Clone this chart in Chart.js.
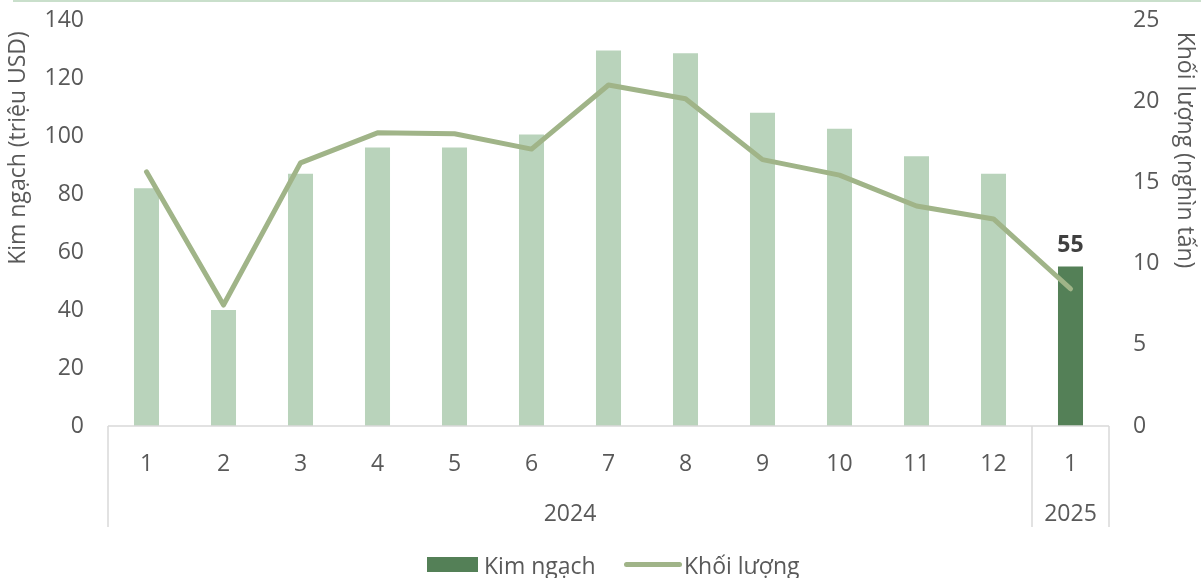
<!DOCTYPE html>
<html>
<head>
<meta charset="utf-8">
<script src="https://cdn.jsdelivr.net/npm/chart.js@4.4.1/dist/chart.umd.min.js"></script>
<style>
  html, body { margin: 0; padding: 0; background: #fff; }
  #wrap { position: relative; width: 1201px; height: 578px; overflow: hidden; }
  #topline { position: absolute; left: 13px; right: 0; top: 0; height: 2px; background: #c9dfcb; }
  #legend { position: absolute; left: 0; width: 1201px; top: 551px; height: 28px;
    font-family: "Open Sans", sans-serif; font-size: 23px; color: #595959; }
  .item { position: absolute; top: 0; line-height: 28px; white-space: nowrap; }
  .sw { position: absolute; }
</style>
</head>
<body>
<div id="wrap">
  <canvas id="chart" width="1201" height="578"></canvas>
  <div id="topline"></div>
  <div id="legend"></div>
</div>
<script>
document.addEventListener('DOMContentLoaded', () => {
  // data
  const months = ['1', '2', '3', '4', '5', '6', '7', '8', '9', '10', '11', '12', '1'];
  const years = [
    { label: '2024', from: 0, to: 11 },
    { label: '2025', from: 12, to: 12 },
  ];
  const kimNgach = [82, 40, 87, 96, 96, 100.5, 129.5, 128.5, 108, 102.5, 93, 87, 55];
  const khoiLuong = [15.65, 7.45, 16.2, 18.05, 18.0, 17.05, 21.0, 20.15, 16.4, 15.45, 13.55, 12.75, 8.45];
  const leftTicks = [0, 20, 40, 60, 80, 100, 120, 140];
  const rightTicks = [0, 5, 10, 15, 20, 25];

  const lightBar = '#b9d3bb';
  const darkBar = '#548057';
  const lineColor = '#a0b488';
  const textColor = '#595959';
  const axisColor = '#d9d9d9';
  const font = '"Open Sans", sans-serif';
  const fontSize = 23;

  const barColors = kimNgach.map((v, i) => (i === kimNgach.length - 1 ? darkBar : lightBar));

  // draws the year row, separators, axis titles and the "55" label
  const extras = {
    id: 'extras',
    afterDraw(chart) {
      const ctx = chart.ctx;
      const x = chart.scales.x;
      const area = chart.chartArea;
      const bottom = x.bottom;
      const half = (x.getPixelForValue(1) - x.getPixelForValue(0)) / 2;

      ctx.save();
      ctx.strokeStyle = axisColor;
      ctx.lineWidth = 1.5;
      ctx.beginPath();
      ctx.moveTo(area.left, area.bottom);
      ctx.lineTo(area.right, area.bottom);
      const bounds = [area.left];
      years.forEach((y) => bounds.push(x.getPixelForValue(y.to) + half));
      bounds.forEach((bx) => {
        ctx.moveTo(bx, area.bottom);
        ctx.lineTo(bx, bottom);
      });
      ctx.stroke();

      ctx.fillStyle = textColor;
      ctx.font = fontSize + 'px ' + font;
      ctx.textAlign = 'center';
      ctx.textBaseline = 'middle';
      years.forEach((y) => {
        const cx = (x.getPixelForValue(y.from) + x.getPixelForValue(y.to)) / 2;
        ctx.fillText(y.label, cx, 514);
      });

      // axis titles
      ctx.save();
      ctx.translate(18, 148);
      ctx.rotate(-Math.PI / 2);
      ctx.fillText('Kim ngạch (triệu USD)', 0, 0);
      ctx.restore();
      ctx.save();
      ctx.translate(1185, 150);
      ctx.rotate(Math.PI / 2);
      ctx.fillText('Khối lượng (nghìn tấn)', 0, 0);
      ctx.restore();

      // data label on last bar
      const meta = chart.getDatasetMeta(0);
      const last = meta.data[meta.data.length - 1];
      ctx.fillStyle = '#404040';
      ctx.font = 'bold ' + fontSize + 'px ' + font;
      ctx.textBaseline = 'bottom';
      ctx.fillText(String(kimNgach[kimNgach.length - 1]), last.x, last.y - 10);
      ctx.restore();
    },
  };

  const fitY = (w) => (s) => {
    s.width = w;
    s.paddingTop = 0;
    s.paddingBottom = 0;
  };

  new Chart(document.getElementById('chart'), {
    type: 'bar',
    data: {
      labels: months,
      datasets: [
        {
          type: 'bar',
          label: 'Kim ngạch',
          data: kimNgach,
          backgroundColor: barColors,
          yAxisID: 'y',
          order: 1,
          categoryPercentage: 1,
          barPercentage: 0.325,
        },
        {
          type: 'line',
          label: 'Khối lượng',
          data: khoiLuong,
          borderColor: lineColor,
          borderWidth: 5,
          borderCapStyle: 'round',
          borderJoinStyle: 'round',
          pointRadius: 0,
          tension: 0,
          yAxisID: 'y1',
          order: 0,
        },
      ],
    },
    options: {
      responsive: false,
      animation: false,
      layout: { padding: { top: 20, bottom: 51, left: 0, right: 0 } },
      plugins: {
        legend: { display: false },
        tooltip: { enabled: false },
      },
      scales: {
        x: {
          offset: true,
          grid: { display: false, drawTicks: false },
          border: { display: false },
          ticks: { color: textColor, font: { family: font, size: fontSize }, padding: 25 },
          afterFit: (s) => { s.height = 101; },
        },
        y: {
          position: 'left',
          min: 0, max: 140,
          afterBuildTicks: (s) => { s.ticks = leftTicks.map((v) => ({ value: v })); },
          grid: { display: false, drawTicks: false },
          border: { display: false },
          ticks: { color: textColor, font: { family: font, size: fontSize }, padding: 24 },
          afterFit: fitY(108),
        },
        y1: {
          position: 'right',
          min: 0, max: 25,
          afterBuildTicks: (s) => { s.ticks = rightTicks.map((v) => ({ value: v })); },
          grid: { display: false, drawTicks: false },
          border: { display: false },
          ticks: { color: textColor, font: { family: font, size: fontSize }, padding: 24 },
          afterFit: fitY(92),
        },
      },
    },
    plugins: [extras],
  });

  // HTML legend
  const legend = document.getElementById('legend');
  legend.innerHTML =
    '<div class="sw" style="left:427px;top:6px;width:51px;height:15px;background:' + darkBar + '"></div>' +
    '<div class="item" style="left:484px">Kim ngạch</div>' +
    '<div class="sw" style="left:624px;top:11px;width:58px;height:5px;border-radius:3px;background:' + lineColor + '"></div>' +
    '<div class="item" style="left:684px">Khối lượng</div>';
});
</script>
</body>
</html>
